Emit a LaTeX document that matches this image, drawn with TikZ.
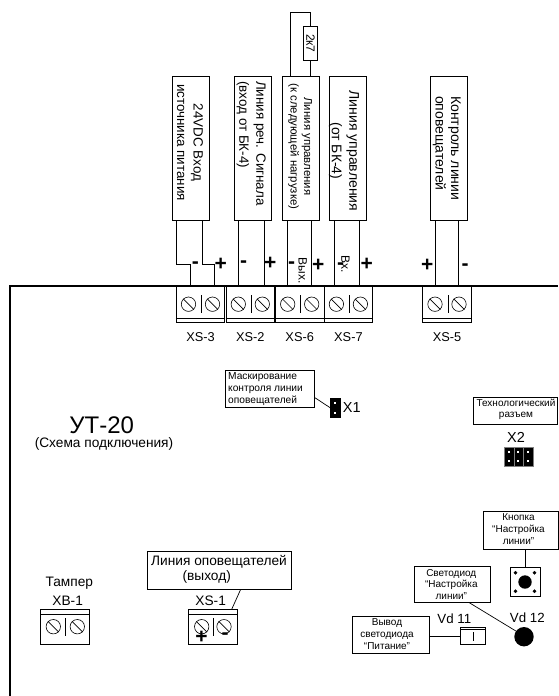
\documentclass[tikz,border=0pt]{standalone}
\usepackage{fontspec}
\setmainfont{Liberation Sans}
\usetikzlibrary{calc, positioning}
\newcommand{\lines}[2]{\fontsize{#1}{#2}\selectfont}
\tikzset{
  fnt/.style={font=\fontsize{#1}{#1}\selectfont, inner sep=0pt},
  lbl/.style={fnt=12.8, align=center},
  sign/.style={font=\fontsize{21}{21}\selectfont\bfseries, inner sep=0pt},
  wirebox/.style={draw, line width=0.7pt, minimum width=37pt, minimum height=144.5pt, inner sep=0pt},
  termblock/.style={draw, line width=0.7pt, minimum width=48.6pt, minimum height=36pt, inner sep=0pt},
  lowblock/.style={draw, line width=0.7pt, minimum width=48.6pt, minimum height=34.7pt, inner sep=0pt},
  screw/.style={draw, circle, line width=0.6pt, minimum size=14.4pt, inner sep=0pt},
  capbox/.style={draw, line width=0.7pt, inner sep=0pt},
  wire/.style={line width=0.7pt},
}
\begin{document}
\begin{tikzpicture}[x=1pt,y=-1pt]
\useasboundingbox (0,0) rectangle (558,696);

% The board outline
\coordinate (boardTL) at (10,286);
\coordinate (boardTR) at (558,286);
\coordinate (boardBL) at (10,696);
\draw[line width=1.3pt] (boardBL) -- (boardTL) -- (boardTR);

% Wire boxes on top
\foreach \n/\x in {bxa/191.3, bxb/253.3, bxc/300.8, bxd/348.2, bxe/448.5} {
    \node[wirebox] (\n) at (\x,148.2) {};
}

\node[rotate=-90, align=center, font=\lines{13.4}{16.5}, inner sep=0pt] (txa) at (190,142.5) {24VDC Вход\\источника питания};
\node[rotate=-90, align=left, anchor=north west, font=\lines{13.4}{17}, inner sep=0pt] (txb) at (266,81) {Линия реч. Сигнала\\(вход от БК-4)};
\node[rotate=-90, align=center, font=\lines{11.4}{13.5}, inner sep=0pt] (txc) at (300,146.5) {Линия управления\\(к следующей нагрузке)};
\node[rotate=-90, align=center, font=\lines{14}{17.5}, inner sep=0pt] (txd) at (344,151) {Линия управления\\(от БК-4)};
\node[rotate=-90, align=left, anchor=north west, font=\lines{14}{15.5}, inner sep=0pt] (txe) at (461,96) {Контроль линии\\оповещателей};

% Top terminal blocks
\foreach \n/\x/\lab in {xsa/200.5/XS-3, xsb/250.3/XS-2, xsc/299.7/XS-6, xsd/348.4/XS-7, xse/447/XS-5} {
    \node[termblock] (\n) at (\x,304) {};
    \draw[wire] ([yshift=4.4pt]\n.south west) -- ([yshift=4.4pt]\n.south east);
    \node[screw] (\n l) at (\x-12,304.2) {};
    \node[screw] (\n r) at (\x+12,304.2) {};
    \draw[wire] (\n l.135) -- (\n l.-45);
    \draw[wire] (\n r.135) -- (\n r.-45);
    \draw[wire] (\x+1,295) -- (\x+1,313);
    \node[lbl] (\n t) at (\x,337) {\lab};
};

% Wires
\coordinate (topa) at (190,286);
\coordinate (topb) at (214.3,286);
\coordinate (kneea) at (176.7,264.3);
\coordinate (kneeb) at (202.7,264.3);
\draw[wire] (kneea |- bxa.south) -- (kneea) -| (topa);
\draw[wire] (kneeb |- bxa.south) -- (kneeb) -| (topb);
\foreach \n/\xl/\xr in {bxb/238.3/264.3, bxc/287.3/311.7, bxd/334.3/359, bxe/435.7/458.3} {
    \draw[wire] (\xl,0 |- \n.south) -- (\xl,286);
    \draw[wire] (\xr,0 |- \n.south) -- (\xr,286);
}

% Resistor on the top
\node[capbox, minimum width=14.4pt, minimum height=34.7pt] (res) at (310.5,43.3) {};
\node[rotate=-90, fnt=12] (rest) at (res) {2к7};
\coordinate (loop) at (290,12.3);
\draw[wire] (res.south) -- (res.south |- bxc.north);
\draw[wire] (res.north) |- (loop) -- (loop |- bxc.north);

% The signs
\foreach \n/\s/\x/\y in {ma/-/195.3/265.5, pa/+/220.7/264, mb/-/243.7/264, pb/+/270.3/263,
                         mc/-/291.7/265.5, pc/+/318.3/265, md/-/340.7/266, pd/+/366.7/264,
                         pe/+/427.3/265.5, me/-/465/267.5} {
    \node[sign] (\n) at (\x,\y) {\s};
}
\node[rotate=-90, fnt=12] (vyh) at (302.7,270.5) {Вых.};
\node[rotate=-90, fnt=12] (vh) at (345.5,264.5) {Вх.};

% The title
\node[fnt=24] (title) at (101.7,425) {УТ-20};
\node[fnt=13.7] (subtitle) at (104,443.5) {(Схема подключения)};

% Jumper X1
\node[capbox, fill=black, minimum width=9.4pt, minimum height=19pt] (xa) at (335.3,407.8) {};
\foreach \y in {-5, 5} {
    \fill[white] ($(xa)+(-1,\y-1)$) rectangle ++(2,2);
}
\node[capbox, minimum width=89.4pt, minimum height=37.7pt] (mask) at (269.7,388.9) {};
\node[align=left, font=\lines{10.2}{11.7}, inner sep=0pt, anchor=north west] (maskt) at (228,372.5) {Маскирование\\контроля линии\\оповещателей};
\coordinate (maskout) at (314.3,397.3);
\draw[wire] (maskout) -- (xa.west);
\node[fnt=14.5] (xat) at (351.7,407.3) {X1};

% Connector X2
\node[capbox, minimum width=84pt, minimum height=27.4pt] (tech) at (515.7,411) {};
\node[align=center, font=\lines{10}{11.4}, inner sep=0pt] (techt) at (516,409.5) {Технологический\\разъем};
\node[fnt=14.5] (xbt) at (516,437.3) {X2};
\foreach \n/\x in {-1/a, 0/b, 1/c} {
    \node[fill=black, draw=gray, line width=0.4pt, minimum width=9.8pt, minimum height=18.7pt, inner sep=0pt] (xb\x) at (518.7+\n*9.8,456.7) {};
    \fill[white] ($(xb\x)+(-1.3,-5.5)$) rectangle ++(2,2);
    \fill[white] ($(xb\x)+(-1.3,3.5)$) rectangle ++(2,2);
}

% Button
\node[capbox, minimum width=74.7pt, minimum height=38pt] (btnbox) at (520.7,530) {};
\node[align=center, font=\lines{10}{11.8}, inner sep=0pt] (btnt) at (518.5,529.3) {Кнопка\\“Настройка\\линии”};
\node[capbox, minimum width=30pt, minimum height=29.4pt] (btn) at (525,582) {};
\node[circle, fill=black, minimum size=13.4pt, inner sep=0pt] (btnc) at (btn) {};
\foreach \a/\b in {-1/-1, 1/-1, -1/1, 1/1} {
    \draw[fill=black, line width=0.4pt] ($(btn)+(\a*9.5,\b*9.2)$) circle (1.6pt);
}
\draw[wire] (btnbox.south -| btn) -- (btn.north);

% LED Vd 12
\node[capbox, minimum width=76.7pt, minimum height=36.7pt] (ledbox) at (452.3,584.3) {};
\node[align=center, font=\lines{10}{11.5}, inner sep=0pt] (ledt) at (451.3,584.3) {Светодиод\\“Настройка\\линии”};
\node[circle, fill=black, minimum size=19.4pt, inner sep=0pt] (led) at (524,636.7) {};
\node[fnt=13.3] (ledn) at (527.3,617.3) {Vd 12};
\coordinate (ledout) at (469.3,602.7);
\draw[wire] (ledout) -- (led.145);

% Vd 11 output
\node[capbox, minimum width=77pt, minimum height=37.3pt] (pwrbox) at (390.8,634.7) {};
\node[align=center, font=\lines{10}{11.7}, inner sep=0pt] (pwrt) at (387,634) {Вывод\\светодиода\\“Питание”};
\node[capbox, minimum width=25pt, minimum height=17.4pt] (vd) at (473.2,636) {};
\draw[wire] ([yshift=-2.7pt]vd.north west) -- ([yshift=-2.7pt]vd.north east);
\draw[wire] (473.3,632) -- (473.3,641);
\draw[wire] (pwrbox.east |- vd.west) -- (vd.west);
\node[fnt=13.3] (vdn) at (454.3,618.3) {Vd 11};

% Lower terminal blocks
\foreach \n/\x in {xba/65/, xsf/212.8/} {
    \node[lowblock] (\n) at (\x,626.7) {};
    \draw[wire] ([yshift=-5.7pt]\n.north west) -- ([yshift=-5.7pt]\n.north east);
}
\foreach \n/\x in {xbal/53.3, xbar/77.3, xsfl/201.7, xsfr/224} {
    \node[screw] (\n) at (\x,626.7) {};
    \draw[wire] (\n.135) -- (\n.-45);
}
\draw[wire] (65.7,618) -- (65.7,636);
\draw[wire] (213.3,618) -- (213.3,636);
\node[sign] (xsfp) at (201.5,637.5) {+};
\node[sign] (xsfm) at (225,636) {-};

\node[fnt=13.7] (tamp) at (69.3,583.3) {Тампер};
\node[fnt=13.7] (xbat) at (67.7,600.7) {ХВ-1};
\node[fnt=13.7] (xsft) at (210.7,600.7) {XS-1};

% Output line box
\node[capbox, minimum width=144pt, minimum height=37.6pt] (outbox) at (219.7,570.5) {};
\node[fnt=13.7] (outa) at (219,561.7) {Линия оповещателей};
\node[fnt=13.7] (outb) at (206.7,576.7) {(выход)};
\coordinate (outc) at (240.7,589.3);
\coordinate (outd) at (231.7,609.3);
\draw[wire] (outc) -- (outd);
\end{tikzpicture}
\end{document}
